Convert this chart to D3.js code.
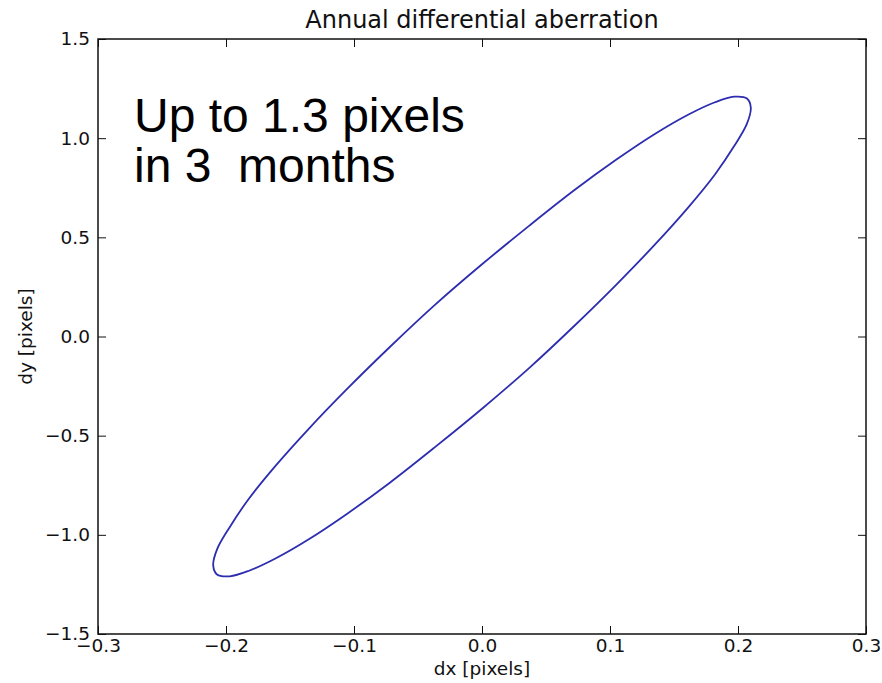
<!DOCTYPE html>
<html>
<head>
<meta charset="utf-8">
<script src="https://cdn.jsdelivr.net/npm/d3@7"></script>
<style>
  body { margin: 0; background: #fff; }
  svg { display: block; }
  .tick text { font-family: "DejaVu Sans", sans-serif; fill: #111; }
</style>
</head>
<body>
<svg id="chart" width="882" height="683"></svg>
<script>
// tick values for both axes
const xTicks = [-0.3, -0.2, -0.1, 0.0, 0.1, 0.2, 0.3];
const yTicks = [-1.5, -1.0, -0.5, 0.0, 0.5, 1.0, 1.5];

// dx / dy of the annual aberration loop (pixels)
const loopDx = [0.210, 0.207, 0.197, 0.182, 0.161, 0.135, 0.105, 0.072, 0.037, 0.000,
                -0.037, -0.072, -0.105, -0.135, -0.161, -0.182, -0.197, -0.207,
                -0.210, -0.207, -0.197, -0.182, -0.161, -0.135, -0.105, -0.072, -0.037, 0.000,
                0.037, 0.072, 0.105, 0.135, 0.161, 0.182, 0.197, 0.207];
const loopDy = [1.154, 1.200, 1.209, 1.181, 1.118, 1.021, 0.892, 0.737, 0.559, 0.364,
                0.158, -0.053, -0.262, -0.463, -0.650, -0.817, -0.960, -1.073,
                -1.154, -1.200, -1.209, -1.181, -1.118, -1.021, -0.892, -0.737, -0.559, -0.364,
                -0.158, 0.053, 0.262, 0.463, 0.650, 0.817, 0.960, 1.073];

const title = 'Annual differential aberration';
const note = ['Up to 1.3 pixels', 'in 3  months'];

const svg = d3.select('#chart');
const plotL = 98, plotR = 866, plotT = 39, plotB = 634;

const x = d3.scaleLinear().domain([-0.3, 0.3]).range([plotL, plotR]);
const y = d3.scaleLinear().domain([-1.5, 1.5]).range([plotB, plotT]);
const fmt = d3.format('.1f');

// axes, ticks pointing inwards like matplotlib
svg.append('g')
    .attr('transform', `translate(0,${plotB})`)
    .call(d3.axisBottom(x).tickValues(xTicks).tickFormat(fmt).tickSize(-8).tickPadding(5))
    .call(g => g.selectAll('text').style('font-size', '18.5px'));

svg.append('g')
    .attr('transform', `translate(0,${plotT})`)
    .call(d3.axisTop(x).tickValues(xTicks).tickFormat('').tickSize(-8));

svg.append('g')
    .attr('transform', `translate(${plotL},0)`)
    .call(d3.axisLeft(y).tickValues(yTicks).tickFormat(fmt).tickSize(-8).tickPadding(8))
    .call(g => g.selectAll('text').style('font-size', '18.5px'));

svg.append('g')
    .attr('transform', `translate(${plotR},0)`)
    .call(d3.axisRight(y).tickValues(yTicks).tickFormat('').tickSize(-8));

svg.selectAll('.domain').remove();
svg.selectAll('.tick line').attr('stroke', '#111').attr('stroke-width', 1);

// the loop
const pts = loopDx.map((d, i) => [d, loopDy[i]]);
svg.append('path')
    .datum(pts)
    .attr('fill', 'none')
    .attr('stroke', '#2d2db0')
    .attr('stroke-width', 1.8)
    .attr('d', d3.line().x(d => x(d[0])).y(d => y(d[1])).curve(d3.curveCatmullRomClosed));

// frame
svg.append('rect')
    .attr('x', plotL).attr('y', plotT)
    .attr('width', plotR - plotL).attr('height', plotB - plotT)
    .attr('fill', 'none')
    .attr('stroke', '#111')
    .attr('stroke-width', 1.5);

// labels
svg.append('text')
    .attr('x', (plotL + plotR) / 2).attr('y', 28)
    .attr('text-anchor', 'middle')
    .style('font-family', 'DejaVu Sans, sans-serif')
    .style('font-size', '24px')
    .style('fill', '#111')
    .text(title);

svg.append('text')
    .attr('x', (plotL + plotR) / 2).attr('y', 675)
    .attr('text-anchor', 'middle')
    .style('font-family', 'DejaVu Sans, sans-serif')
    .style('font-size', '18.5px')
    .style('fill', '#111')
    .text('dx [pixels]');

svg.append('text')
    .attr('transform', `translate(32,${(plotT + plotB) / 2}) rotate(-90)`)
    .attr('text-anchor', 'middle')
    .style('font-family', 'DejaVu Sans, sans-serif')
    .style('font-size', '18.5px')
    .style('fill', '#111')
    .text('dy [pixels]');

svg.append('g')
    .selectAll('text')
    .data(note)
    .join('text')
    .attr('x', 134)
    .attr('y', (d, i) => 132 + i * 50)
    .style('font-family', 'Liberation Sans, Arial, sans-serif')
    .style('font-size', '48px')
    .style('white-space', 'pre')
    .style('fill', '#000')
    .text(d => d);
</script>
</body>
</html>
